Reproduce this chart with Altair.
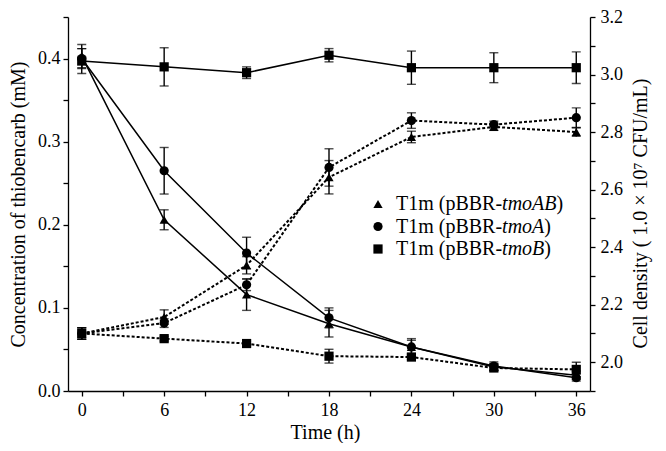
import altair as alt
import pandas as pd

# ---------------- data ----------------
times = [0, 6, 12, 18, 24, 30, 36]
strains = ["tmoAB", "tmoA", "tmoB"]
shapes = ["triangle-up", "circle", "square"]

# concentration of thiobencarb (mM) -- solid lines, left axis
conc_tmoAB = [0.403, 0.206, 0.116, 0.081, 0.053, 0.029, 0.019]
conc_tmoAB_err = [0.014, 0.012, 0.019, 0.016, 0.008, 0.004, 0.005]
conc_tmoA = [0.400, 0.265, 0.166, 0.088, 0.053, 0.030, 0.016]
conc_tmoA_err = [0.012, 0.028, 0.019, 0.012, 0.010, 0.005, 0.004]
conc_tmoB = [0.397, 0.390, 0.383, 0.404, 0.389, 0.389, 0.389]
conc_tmoB_err = [0.015, 0.023, 0.007, 0.008, 0.020, 0.018, 0.019]

# cell density (1.0 x 10^7 CFU/mL) -- dotted lines, right axis
dens_tmoAB = [2.100, 2.157, 2.337, 2.643, 2.783, 2.818, 2.800]
dens_tmoAB_err = [0.020, 0.025, 0.030, 0.058, 0.020, 0.012, 0.015]
dens_tmoA = [2.100, 2.136, 2.269, 2.677, 2.840, 2.826, 2.850]
dens_tmoA_err = [0.020, 0.015, 0.020, 0.065, 0.027, 0.012, 0.034]
dens_tmoB = [2.100, 2.082, 2.065, 2.021, 2.018, 1.980, 1.975]
dens_tmoB_err = [0.020, 0.008, 0.008, 0.024, 0.008, 0.010, 0.025]

legend_prefix = "T1m (pBBR-"
legend_suffix = ")"

# ---------------- build tables ----------------
conc_all = {"tmoAB": (conc_tmoAB, conc_tmoAB_err),
            "tmoA": (conc_tmoA, conc_tmoA_err),
            "tmoB": (conc_tmoB, conc_tmoB_err)}
dens_all = {"tmoAB": (dens_tmoAB, dens_tmoAB_err),
            "tmoA": (dens_tmoA, dens_tmoA_err),
            "tmoB": (dens_tmoB, dens_tmoB_err)}

rows = []
for s in strains:
    cv, ce = conc_all[s]
    dv, de = dens_all[s]
    for t, c, cerr, d, derr in zip(times, cv, ce, dv, de):
        rows.append({"time": t, "strain": s,
                     "conc": c, "conc_lo": c - cerr, "conc_hi": c + cerr,
                     "dens": d, "dens_lo": d - derr, "dens_hi": d + derr})
df = pd.DataFrame(rows)

FONT = "Liberation Serif"
W, H = 522, 374
LBL = 18
TTL = 20

x_enc = alt.X("time:Q",
              scale=alt.Scale(domain=[-1, 37], nice=False, zero=False),
              axis=alt.Axis(values=list(range(0, 37, 3)),
                            labelExpr="datum.value % 6 == 0 ? datum.label : ''",
                            title="Time (h)", titleX=257, titleY=41,
                            titleBaseline="middle",
                            labelFont=FONT, labelFontSize=LBL,
                            titleFont=FONT, titleFontSize=TTL,
                            tickSize=5, labelPadding=5))

shape_enc = alt.Shape("strain:N", scale=alt.Scale(domain=strains, range=shapes),
                      legend=None)

# ---------------- concentration layer (left) ----------------
LT = "Concentration of thiobencarb (mM)"
conc_scale = alt.Scale(domain=[0, 0.45], nice=False, zero=False)
conc_axis = alt.Axis(orient="left",
                     values=[round(i * 0.05, 2) for i in range(10)],
                     labelExpr="round(datum.value*100) % 10 == 0 ? format(datum.value, '.1f') : ''",
                     title=LT, titleX=-50, titleBaseline="middle",
                     labelFont=FONT, labelFontSize=LBL,
                     titleFont=FONT, titleFontSize=TTL,
                     tickSize=5, labelPadding=3)

cbase = alt.Chart(df)
c_rule = cbase.mark_rule(color="black", strokeWidth=1.4).encode(
    x=x_enc,
    y=alt.Y("conc_lo:Q", scale=conc_scale, axis=conc_axis, title=LT),
    y2="conc_hi:Q")
c_cap_hi = cbase.mark_tick(color="black", orient="horizontal", size=9, thickness=1.4).encode(
    x=x_enc, y=alt.Y("conc_hi:Q", scale=conc_scale, axis=conc_axis, title=LT))
c_cap_lo = cbase.mark_tick(color="black", orient="horizontal", size=9, thickness=1.4).encode(
    x=x_enc, y=alt.Y("conc_lo:Q", scale=conc_scale, axis=conc_axis, title=LT))
c_line = cbase.mark_line(color="black", strokeWidth=1.5).encode(
    x=x_enc, y=alt.Y("conc:Q", scale=conc_scale, axis=conc_axis, title=LT),
    detail="strain:N")
c_pts = cbase.mark_point(filled=True, color="black", opacity=1, size=85).encode(
    x=x_enc, y=alt.Y("conc:Q", scale=conc_scale, axis=conc_axis, title=LT),
    shape=shape_enc)
conc_layer = alt.layer(c_rule, c_cap_hi, c_cap_lo, c_line, c_pts)

# ---------------- density layer (right) ----------------
RT = "Cell density ( 1.0 × 10⁷ CFU/mL)"
dens_scale = alt.Scale(domain=[1.9, 3.2], nice=False, zero=False)
dens_axis = alt.Axis(orient="right",
                     values=[round(1.9 + i * 0.1, 1) for i in range(14)],
                     labelExpr="round(datum.value*10) % 2 == 0 ? format(datum.value, '.1f') : ''",
                     title=RT, titleAngle=-90, titleX=50, titleY=196,
                     titleBaseline="middle", titleAlign="center",
                     labelFont=FONT, labelFontSize=LBL,
                     titleFont=FONT, titleFontSize=TTL,
                     tickSize=5, labelPadding=5)

d_rule = cbase.mark_rule(color="black", strokeWidth=1.4).encode(
    x=x_enc, y=alt.Y("dens_lo:Q", scale=dens_scale, axis=dens_axis, title=RT),
    y2="dens_hi:Q")
d_cap_hi = cbase.mark_tick(color="black", orient="horizontal", size=9, thickness=1.4).encode(
    x=x_enc, y=alt.Y("dens_hi:Q", scale=dens_scale, axis=dens_axis, title=RT))
d_cap_lo = cbase.mark_tick(color="black", orient="horizontal", size=9, thickness=1.4).encode(
    x=x_enc, y=alt.Y("dens_lo:Q", scale=dens_scale, axis=dens_axis, title=RT))
d_line = cbase.mark_line(color="black", strokeWidth=2, strokeDash=[3, 2]).encode(
    x=x_enc, y=alt.Y("dens:Q", scale=dens_scale, axis=dens_axis, title=RT),
    detail="strain:N")
d_pts = cbase.mark_point(filled=True, color="black", opacity=1, size=85).encode(
    x=x_enc, y=alt.Y("dens:Q", scale=dens_scale, axis=dens_axis, title=RT),
    shape=shape_enc)
dens_layer = alt.layer(d_rule, d_cap_hi, d_cap_lo, d_line, d_pts)

# ---------------- custom legend (mixed roman / italic text) ----------------
LFS = 20
roman_w = {"T": .611, "1": .5, "m": .778, " ": .25, "(": .333, "p": .5,
           "B": .667, "R": .667, "-": .333, ")": .333}
italic_w = {"t": .278, "m": .722, "o": .5, "A": .611, "B": .611}
prefix_w = sum(roman_w[ch] for ch in legend_prefix) * LFS
leg = pd.DataFrame({
    "row": [0, 1, 2],
    "strain": strains,
    "prefix": [legend_prefix] * 3,
    "gene": strains,
    "suffix": [legend_suffix] * 3,
})
leg["suffix_dx"] = [prefix_w + sum(italic_w[ch] for ch in g) * LFS for g in strains]
ly = alt.Y("row:O", scale=alt.Scale(type="point", domain=[0, 1, 2], range=[187, 232], padding=0),
           axis=None)
TX = 328
lbase = alt.Chart(leg)
l_sym = lbase.mark_point(filled=True, color="black", opacity=1, size=85).encode(
    x=alt.value(310), y=ly, shape=shape_enc)
l_pre = lbase.mark_text(align="left", baseline="middle", font=FONT, fontSize=LFS,
                        color="black").encode(x=alt.value(TX), y=ly, text="prefix:N")
l_gene = lbase.mark_text(align="left", baseline="middle", font=FONT, fontSize=LFS,
                         fontStyle="italic", color="black", dx=prefix_w).encode(
    x=alt.value(TX), y=ly, text="gene:N")
l_suf = lbase.transform_calculate(sx=f"{TX} + datum.suffix_dx").mark_text(
    align="left", baseline="middle", font=FONT, fontSize=LFS, color="black").encode(
    x=alt.X("sx:Q", scale=None, axis=None), y=ly, text="suffix:N")
legend_layer = alt.layer(l_sym, l_pre, l_gene, l_suf)

chart = alt.layer(conc_layer, dens_layer, legend_layer).resolve_scale(
    y="independent", shape="shared"
).properties(
    width=W, height=H,
    autosize=alt.AutoSizeParams(type="none"),
    padding={"left": 60, "top": 9, "right": 68, "bottom": 52},
).configure_view(stroke=None).configure_axis(
    grid=False, domainColor="black", tickColor="black", domainWidth=1.3, tickWidth=1.3,
    labelFont=FONT, labelFontSize=LBL, labelColor="black",
    titleFont=FONT, titleFontSize=TTL, titleFontWeight="normal", titleColor="black",
).configure_text(font=FONT)

chart.save("out.html", embed_options={"renderer": "svg", "actions": False})
